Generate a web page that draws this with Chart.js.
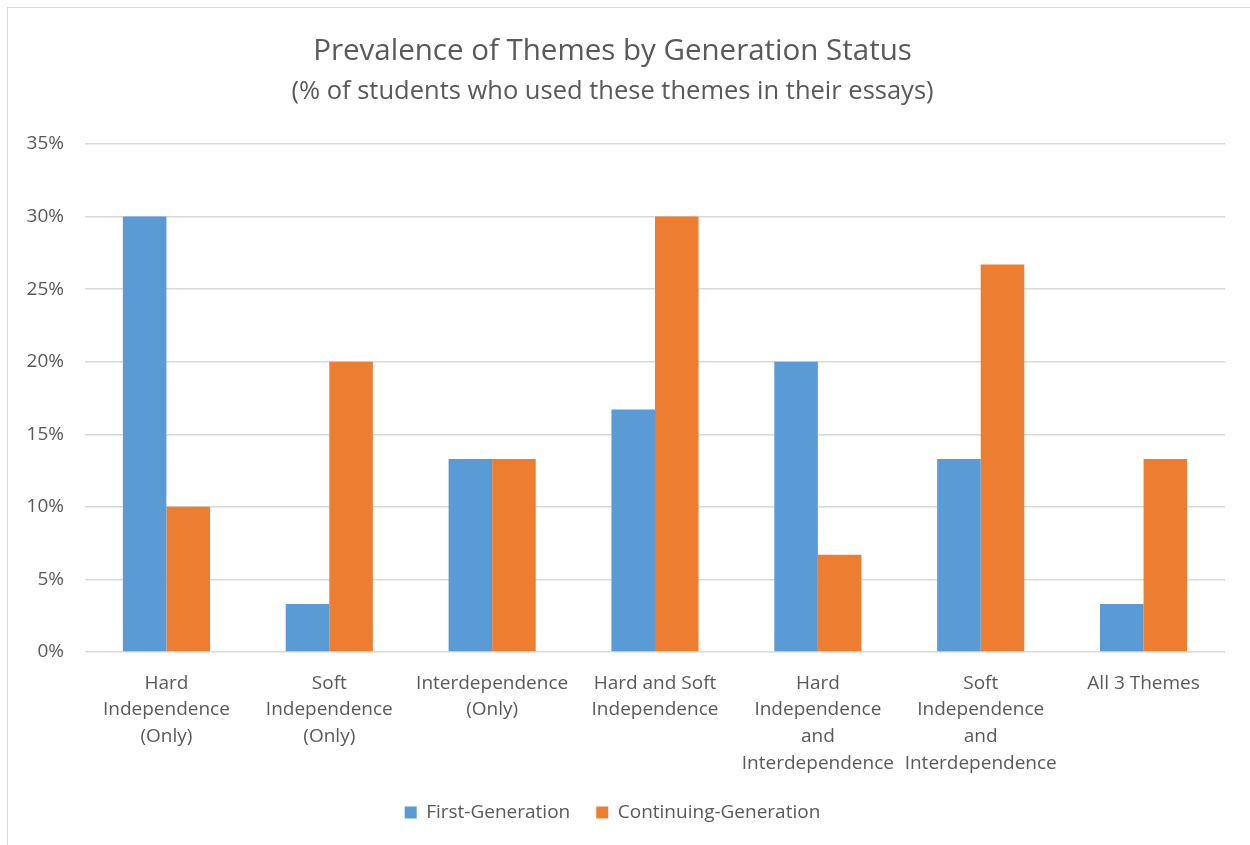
<!DOCTYPE html>
<html>
<head>
<meta charset="utf-8">
<script src="https://cdn.jsdelivr.net/npm/chart.js@4"></script>
<style>
    html, body { margin: 0; padding: 0; background: #fff; }
    #wrap { position: relative; width: 1250px; height: 845px; }
    #frame { position: absolute; left: 7px; top: 7px; right: 0; bottom: 0; border: 1px solid #d9d9d9; border-right: none; border-bottom: none; pointer-events: none; }
</style>
</head>
<body>
<div id="wrap">
    <canvas id="themeChart" width="1250" height="845"></canvas>
    <div id="frame"></div>
</div>
<script>
// Chart data
const categories = [
    ['Hard', 'Independence', '(Only)'],
    ['Soft', 'Independence', '(Only)'],
    ['Interdependence', '(Only)'],
    ['Hard and Soft', 'Independence'],
    ['Hard', 'Independence', 'and', 'Interdependence'],
    ['Soft', 'Independence', 'and', 'Interdependence'],
    ['All 3 Themes']
];
const firstGen = [30, 3.3, 13.3, 16.7, 20, 13.3, 3.3];
const continuingGen = [10, 20, 13.3, 30, 6.7, 26.7, 13.3];
const yTicks = [0, 5, 10, 15, 20, 25, 30, 35];

const textColor = '#595959';
const fontFamily = "'Open Sans', 'Noto Sans', sans-serif";

const ctx = document.getElementById('themeChart').getContext('2d');
new Chart(ctx, {
    type: 'bar',
    data: {
        labels: categories,
        datasets: [
            { label: 'First-Generation', data: firstGen, backgroundColor: '#5B9BD5' },
            { label: 'Continuing-Generation', data: continuingGen, backgroundColor: '#ED7D31' }
        ]
    },
    options: {
        responsive: false,
        animation: false,
        layout: { padding: { top: 0, left: 0, right: 25, bottom: 13 } },
        datasets: { bar: { categoryPercentage: 0.535, barPercentage: 1 } },
        plugins: {
            title: {
                display: true,
                text: 'Prevalence of Themes by Generation Status',
                color: textColor,
                font: { family: fontFamily, size: 29.5, weight: 'normal' },
                padding: { top: 34, bottom: 0 }
            },
            subtitle: {
                display: true,
                text: '(% of students who used these themes in their essays)',
                color: textColor,
                font: { family: fontFamily, size: 25.5, weight: 'normal' },
                padding: { top: 7, bottom: 37 }
            },
            legend: {
                position: 'bottom',
                labels: {
                    color: textColor,
                    font: { family: fontFamily, size: 19 },
                    boxWidth: 12,
                    boxHeight: 12,
                    padding: 26
                }
            },
            tooltip: { enabled: false }
        },
        scales: {
            x: {
                grid: { display: false },
                border: { display: false },
                ticks: {
                    color: textColor,
                    font: { family: fontFamily, size: 19, lineHeight: 1.4 },
                    maxRotation: 0,
                    autoSkip: false,
                    padding: 10
                },
                afterFit: (scale) => { scale.height = 125; }
            },
            y: {
                min: 0,
                max: 35,
                afterBuildTicks: (scale) => { scale.ticks = yTicks.map(v => ({ value: v })); },
                grid: { color: '#d9d9d9', drawTicks: false, lineWidth: 1.5 },
                border: { display: false },
                ticks: {
                    color: textColor,
                    font: { family: fontFamily, size: 19 },
                    padding: 21,
                    callback: (v) => v + '%'
                },
                afterFit: (scale) => { scale.width = 85; }
            }
        }
    }
});
</script>
</body>
</html>
